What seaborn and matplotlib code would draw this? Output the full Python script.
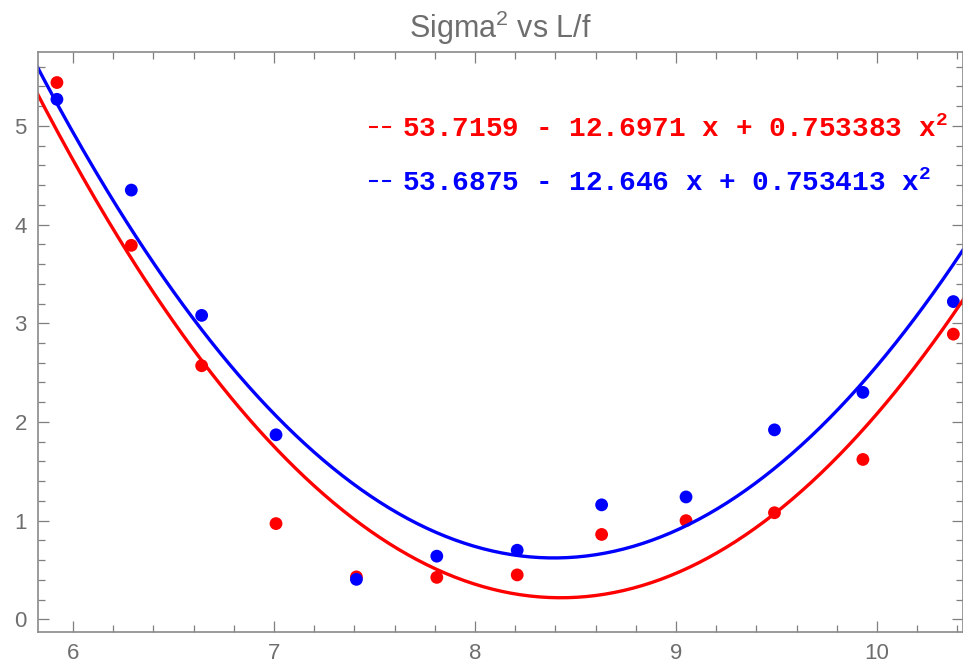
import numpy as np
import pandas as pd
import seaborn as sns
from matplotlib import pyplot as plt
from matplotlib.ticker import MultipleLocator

# measured L/f values and sigma^2 for the two series
lf = [5.92, 6.29, 6.64, 7.01, 7.41, 7.81, 8.21, 8.63, 9.05, 9.49, 9.93, 10.38]
sigma2_red = [5.44, 3.79, 2.57, 0.97, 0.43, 0.425, 0.45, 0.86, 1.00, 1.08, 1.62, 2.89]
sigma2_blue = [5.27, 4.35, 3.08, 1.87, 0.405, 0.64, 0.70, 1.16, 1.24, 1.92, 2.30, 3.22]

# quadratic fit coefficients (constant, x, x^2) as printed on the chart
fit_red = [53.7159, -12.6971, 0.753383]
fit_blue = [53.6875, -12.646, 0.753413]
label_red = r"53.7159 - 12.6971 x + 0.753383 x$^\mathbf{2}$"
label_blue = r"53.6875 - 12.646 x + 0.753413 x$^\mathbf{2}$"

points = pd.DataFrame({
    'lf': lf * 2,
    'sigma2': sigma2_red + sigma2_blue,
    'series': [label_red] * len(lf) + [label_blue] * len(lf),
})

xs = np.linspace(5.8, 10.45, 300)
curves = pd.concat([
    pd.DataFrame({'lf': xs, 'sigma2': np.polyval(fit_red[::-1], xs), 'series': label_red}),
    pd.DataFrame({'lf': xs, 'sigma2': np.polyval(fit_blue[::-1], xs), 'series': label_blue}),
])

palette = {label_red: '#ff0000', label_blue: '#0000ff'}

sns.set_style("ticks")
plt.rcParams['font.family'] = ['Liberation Sans', 'DejaVu Sans']
plt.rcParams['mathtext.fontset'] = 'custom'
plt.rcParams['mathtext.bf'] = 'Liberation Mono:bold'
plt.rcParams['mathtext.sf'] = 'Liberation Sans'

fig = plt.figure(figsize=(9.63, 6.66), dpi=100)
ax = fig.add_axes([0.0395, 0.051, 0.9605, 0.871])

sns.lineplot(data=curves, x='lf', y='sigma2', hue='series', palette=palette,
             linewidth=2.4, ax=ax)
sns.scatterplot(data=points, x='lf', y='sigma2', hue='series', palette=palette,
                s=85, edgecolor='none', legend=False, ax=ax)

ax.set_xlim(5.826, 10.428)
ax.set_ylim(-0.129, 5.75)
ax.xaxis.set_major_locator(MultipleLocator(1))
ax.xaxis.set_minor_locator(MultipleLocator(0.2))
ax.yaxis.set_major_locator(MultipleLocator(1))
ax.yaxis.set_minor_locator(MultipleLocator(0.2))
ax.tick_params(which='both', direction='in', top=True, right=True,
               color='#7f7f7f', width=0.9, labelsize=16, labelcolor='#6e6e6e', pad=8)
ax.tick_params(which='major', length=8)
ax.tick_params(which='minor', length=5)
for sp in ax.spines.values():
    sp.set_color('#8a8a8a')
    sp.set_linewidth(1.2)
ax.set(xlabel='', ylabel='')
ax.set_title(r'Sigma$^\mathsf{2}$ vs L/f', fontsize=22, color='#6e6e6e', pad=10)

leg = ax.legend(loc='upper left', bbox_to_anchor=(0.357, 0.865), bbox_transform=fig.transFigure,
                frameon=False, handlelength=0.85, handletextpad=0.35, labelspacing=0.95,
                prop={'family': 'Liberation Mono', 'weight': 'bold', 'size': 20})
for line, text in zip(leg.get_lines(), leg.get_texts()):
    line.set_linestyle((0, (4.3, 2.0)))
    line.set_linewidth(1.5)
    text.set_color(line.get_color())

plt.savefig('out.png', dpi=100)
